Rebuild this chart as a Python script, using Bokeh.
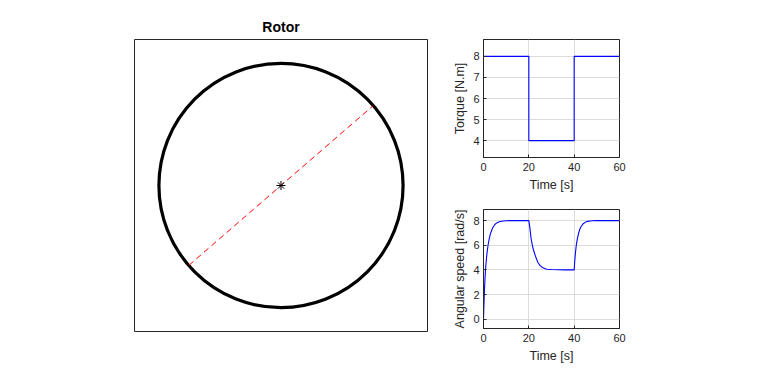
import numpy as np
from bokeh.plotting import figure
from bokeh.layouts import row, column
from bokeh.models import Range1d, FixedTicker
from bokeh.embed import file_html
from bokeh.resources import INLINE

# ---- data ----
rotor_center_x = [0.0]
rotor_center_y = [0.0]
rotor_radius = 1.0
rotor_angle_deg = 41.0

torque_t = [0, 20, 20, 40, 40, 60]
torque_v = [8, 8, 4, 4, 8, 8]

speed_t = [0, 0.25, 0.5, 0.75, 1, 1.5, 2, 2.5, 3, 4, 5, 6, 7, 8, 10, 12, 15, 20,
           20.5, 21, 21.5, 22, 22.5, 23, 24, 25, 26, 27, 28, 30, 33, 36, 40,
           40.25, 40.5, 40.75, 41, 41.5, 42, 42.5, 43, 44, 45, 46, 47, 48, 50, 55, 60]
speed_v = [0.0, 1.5, 2.7, 3.6, 4.3, 5.3, 6.0, 6.5, 6.9, 7.4, 7.68, 7.83, 7.91, 7.95, 7.99, 8.0, 8.0, 8.0,
           7.35, 6.55, 6.05, 5.65, 5.35, 5.08, 4.6, 4.35, 4.2, 4.12, 4.06, 4.03, 4.01, 4.0, 4.0,
           4.7, 5.25, 5.7, 6.1, 6.6, 7.0, 7.3, 7.5, 7.75, 7.88, 7.94, 7.97, 7.99, 8.0, 8.0, 8.0]

time_ticks = [0, 20, 40, 60]
torque_ticks = [4, 5, 6, 7, 8]
speed_ticks = [0, 2, 4, 6, 8]

FONT = "Liberation Sans"
AX = "#262626"

# ---- left: rotor ----
left = figure(width=440, height=384, output_backend="svg", toolbar_location=None,
              x_range=Range1d(-1.2, 1.2), y_range=Range1d(-1.2, 1.2),
              min_border_left=134, min_border_right=13, min_border_top=39, min_border_bottom=53,
              title="Rotor")
left.title.align = "center"
left.title.text_font = FONT
left.title.text_font_size = "14px"
left.title.text_font_style = "bold"
left.title.text_color = "#000000"
left.axis.visible = False
left.grid.visible = False
left.outline_line_color = AX
left.outline_line_width = 1
left.background_fill_color = "white"
left.border_fill_color = "white"

left.circle(x=rotor_center_x, y=rotor_center_y, radius=rotor_radius,
            fill_color=None, line_color="black", line_width=3.2)
a = np.deg2rad(rotor_angle_deg)
lx = [rotor_center_x[0] - rotor_radius * np.cos(a), rotor_center_x[0] + rotor_radius * np.cos(a)]
ly = [rotor_center_y[0] - rotor_radius * np.sin(a), rotor_center_y[0] + rotor_radius * np.sin(a)]
left.line(lx, ly, line_color="#ff0000", line_width=1, line_dash="6 4")
left.scatter(x=rotor_center_x, y=rotor_center_y, marker="asterisk", size=9,
             line_color="black", line_width=1)


def style_small(p, xticks, yticks, ylabel):
    p.xaxis.ticker = FixedTicker(ticks=xticks)
    p.yaxis.ticker = FixedTicker(ticks=yticks)
    for ax in (p.xaxis[0], p.yaxis[0]):
        ax.major_tick_in = 3
        ax.major_tick_out = 0
        ax.minor_tick_line_color = None
        ax.axis_line_color = AX
        ax.major_tick_line_color = AX
        ax.major_label_text_font = FONT
        ax.major_label_text_font_size = "11px"
        ax.major_label_text_color = AX
        ax.axis_label_text_font = FONT
        ax.axis_label_text_font_size = "12.5px"
        ax.axis_label_text_font_style = "normal"
        ax.axis_label_text_color = AX
        ax.major_label_standoff = 5
        ax.axis_label_standoff = 4
    p.yaxis.major_label_standoff = 4
    p.yaxis.axis_label_standoff = 3
    p.xaxis.axis_label = "Time [s]"
    p.yaxis.axis_label = ylabel
    p.grid.grid_line_color = "#dcdcdc"
    p.grid.grid_line_width = 1
    p.outline_line_color = AX
    p.outline_line_alpha = 1
    p.background_fill_color = "white"
    p.border_fill_color = "white"


top = figure(width=328, height=196, output_backend="svg", toolbar_location=None,
             x_range=Range1d(0, 60), y_range=Range1d(3.2, 8.8),
             min_border_left=43, min_border_right=149, min_border_top=39, min_border_bottom=39)
style_small(top, time_ticks, torque_ticks, "Torque [N.m]")
top.line(torque_t, torque_v, line_color="#0000ff", line_width=1.1)

bot = figure(width=328, height=188, output_backend="svg", toolbar_location=None,
             x_range=Range1d(0, 60), y_range=Range1d(-0.75, 8.9),
             min_border_left=43, min_border_right=149, min_border_top=13, min_border_bottom=56)
style_small(bot, time_ticks, speed_ticks, "Angular speed [rad/s]")
bot.line(speed_t, speed_v, line_color="#0000ff", line_width=1.1)

layout = row(left, column(top, bot, spacing=0), spacing=0)
open("out.html", "w").write(file_html(layout, INLINE))
